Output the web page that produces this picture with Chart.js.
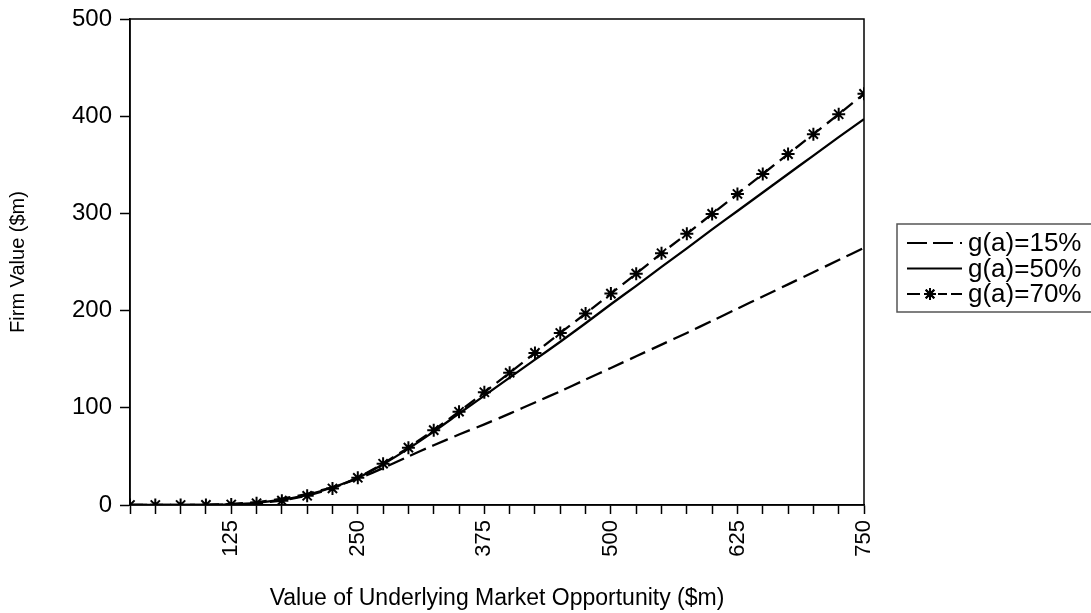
<!DOCTYPE html>
<html>
<head>
<meta charset="utf-8">
<title>Firm Value vs Market Opportunity</title>
<script src="https://cdn.jsdelivr.net/npm/chart.js@4/dist/chart.umd.min.js"></script>
<style>
  html, body { margin: 0; padding: 0; background: #ffffff; }
  #wrap { width: 1091px; height: 613px; }
</style>
</head>
<body>
<div id="wrap"><canvas id="chart" width="1091" height="613"></canvas></div>
<script>
// Value of the underlying market opportunity ($m)
const marketValues = [25, 50, 75, 100, 125, 150, 175, 200, 225, 250,
                      275, 300, 325, 350, 375, 400, 425, 450, 475, 500,
                      525, 550, 575, 600, 625, 650, 675, 700, 725, 750];

// Firm value ($m) for each growth assumption
const firmValue15 = [0, 0, 0.1, 0.4, 1.2, 3, 6.5, 11.5, 18.5, 27,
                     38, 50, 61.5, 72.5, 83, 94, 105.5, 117, 129, 141,
                     153, 165, 177, 189.5, 202, 214.5, 227, 239.5, 252, 264.5];
const firmValue50 = [0, 0, 0, 0.1, 0.6, 2.2, 5.5, 10.5, 18, 28,
                     42, 58, 75.5, 94, 112.5, 131, 149.5, 168, 187, 206.5,
                     225.5, 245, 264, 283.5, 302.5, 321.5, 340.5, 359.5, 378.5, 397];
const firmValue70 = [0, 0, 0, 0.1, 0.5, 1.8, 4.5, 9.5, 17, 28,
                     42.5, 59, 77, 96, 116, 136, 156.5, 177, 197, 217.5,
                     238, 259, 279, 299.5, 320, 340.5, 361, 381.5, 402, 423];

const seriesLabels = ['g(a)=15%', 'g(a)=50%', 'g(a)=70%'];
const xTickLabels = [125, 250, 375, 500, 625, 750];
const yTickValues = [0, 100, 200, 300, 400, 500];

const FONT = '"Liberation Sans", Arial, sans-serif';
const toPoints = (ys) => marketValues.map((x, i) => ({ x: x, y: ys[i] }));

// Black frame around the plot area (top and right sides included)
const frame = {
  id: 'frame',
  afterDatasetsDraw(chart) {
    const { ctx, chartArea: a } = chart;
    ctx.save();
    ctx.strokeStyle = '#000';
    ctx.lineWidth = 1.5;
    ctx.strokeRect(a.left, a.top, a.right - a.left, a.bottom - a.top);
    ctx.restore();
  }
};

// Boxed legend to the right of the plot, with the line samples drawn in each series style
const boxLegend = {
  id: 'boxLegend',
  afterDraw(chart) {
    const { ctx } = chart;
    const box = { x: 897, y: 224, w: 300, h: 88 };
    const rows = [243, 268.5, 294];
    const x0 = 907, x1 = 962;
    ctx.save();
    ctx.strokeStyle = '#555';
    ctx.lineWidth = 1.5;
    ctx.strokeRect(box.x, box.y, box.w, box.h);
    chart.data.datasets.forEach((ds, i) => {
      const y = rows[i];
      ctx.strokeStyle = '#000';
      ctx.lineWidth = 2.2;
      ctx.setLineDash(ds.legendDash || []);
      ctx.beginPath();
      ctx.moveTo(x0, y);
      ctx.lineTo(x1, y);
      ctx.stroke();
      ctx.setLineDash([]);
      if (ds.pointRadius > 0) {
        ctx.lineWidth = 2;
        Chart.helpers.drawPoint(ctx, { pointStyle: 'star', radius: 6, borderWidth: 2 }, 930, y);
        ctx.stroke();
      }
      ctx.fillStyle = '#000';
      ctx.font = '26px ' + FONT;
      ctx.textAlign = 'left';
      ctx.textBaseline = 'middle';
      ctx.fillText(ds.label, 968, y + 1);
    });
    ctx.restore();
  }
};

new Chart(document.getElementById('chart'), {
  type: 'line',
  data: {
    datasets: [
      {
        label: seriesLabels[0],
        data: toPoints(firmValue15),
        borderColor: '#000',
        borderWidth: 2.3,
        borderDash: [17, 7],
        legendDash: [20, 6, 20, 7, 2, 50],
        pointRadius: 0,
        tension: 0.3,
        fill: false
      },
      {
        label: seriesLabels[1],
        data: toPoints(firmValue50),
        borderColor: '#000',
        borderWidth: 2.3,
        pointRadius: 0,
        tension: 0.3,
        fill: false
      },
      {
        label: seriesLabels[2],
        data: toPoints(firmValue70),
        borderColor: '#000',
        borderWidth: 2.3,
        borderDash: [13, 7],
        legendDash: [13, 18, 9, 4, 11, 50],
        pointStyle: 'star',
        pointRadius: 6.5,
        pointBorderWidth: 2,
        pointBorderColor: '#000',
        pointBackgroundColor: '#000',
        tension: 0,
        fill: false
      }
    ]
  },
  options: {
    responsive: false,
    animation: false,
    devicePixelRatio: 1,
    layout: { padding: { top: 19, right: 227, bottom: 0, left: 0 } },
    plugins: {
      legend: { display: false },
      tooltip: { enabled: false }
    },
    scales: {
      x: {
        type: 'linear',
        min: 25,
        max: 750,
        afterFit(scale) { scale.height = 108; },
        afterBuildTicks(scale) {
          scale.ticks = marketValues.map(v => ({ value: v }));
        },
        ticks: {
          autoSkip: false,
          minRotation: 90,
          maxRotation: 90,
          padding: 6,
          color: '#000',
          font: { family: FONT, size: 22 },
          callback: (v) => xTickLabels.includes(v) ? String(v) : ''
        },
        grid: {
          drawOnChartArea: false,
          drawTicks: true,
          tickLength: 9,
          tickWidth: 1.5,
          tickColor: '#000'
        },
        border: { display: true, color: '#000', width: 1.5 },
        title: {
          display: true,
          text: 'Value of Underlying Market Opportunity ($m)',
          color: '#000',
          font: { family: FONT, size: 23 },
          padding: { top: 0, bottom: 1 }
        }
      },
      y: {
        type: 'linear',
        min: 0,
        max: 500,
        afterFit(scale) {
          scale.width = 130;
          scale.paddingTop = 0;
          scale.paddingBottom = 0;
        },
        afterBuildTicks(scale) {
          scale.ticks = yTickValues.map(v => ({ value: v }));
        },
        ticks: {
          padding: 8,
          color: '#000',
          font: { family: FONT, size: 24 }
        },
        grid: {
          drawOnChartArea: false,
          drawTicks: true,
          tickLength: 10,
          tickWidth: 1.5,
          tickColor: '#000'
        },
        border: { display: true, color: '#000', width: 1.5 },
        title: {
          display: true,
          text: 'Firm Value ($m)',
          color: '#000',
          font: { family: FONT, size: 20 },
          padding: { top: 6, bottom: 0 }
        }
      }
    }
  },
  plugins: [frame, boxLegend]
});
</script>
</body>
</html>
